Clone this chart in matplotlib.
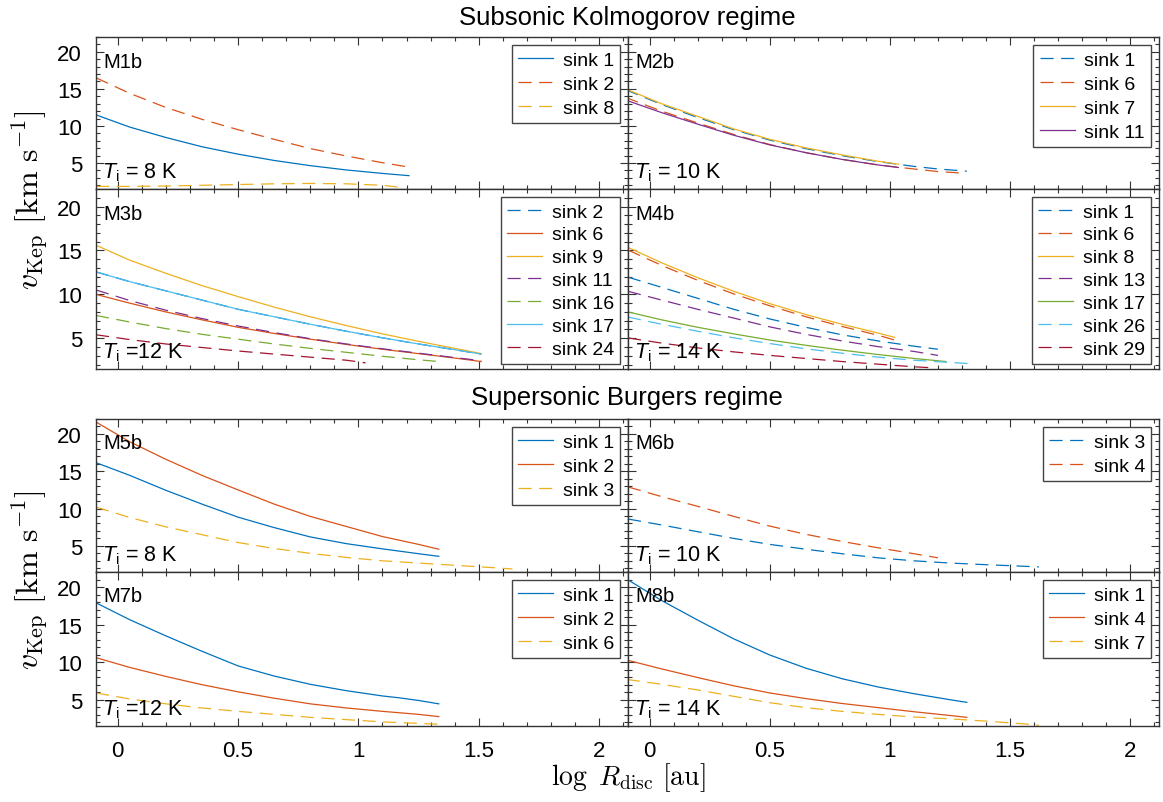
import matplotlib
matplotlib.use('Agg')
import matplotlib.pyplot as plt
from matplotlib.ticker import MultipleLocator, FuncFormatter

plt.rcParams['font.family'] = ['Liberation Sans', 'DejaVu Sans']
plt.rcParams['mathtext.fontset'] = 'custom'
plt.rcParams['mathtext.rm'] = 'Liberation Sans'
plt.rcParams['mathtext.it'] = 'Liberation Sans:italic'
plt.rcParams['mathtext.bf'] = 'Liberation Sans:bold'

# ---------------- data (log R_disc [au], v_Kep [km/s]) ----------------
# M1b  (Ti = 8 K)
m1b_labels = ['sink 1', 'sink 2', 'sink 8']
m1b_x = [[-0.09, 0.05, 0.2, 0.35, 0.5, 0.65, 0.8, 0.95, 1.1, 1.21],
         [-0.09, 0.05, 0.2, 0.35, 0.5, 0.65, 0.8, 0.95, 1.1, 1.21],
         [-0.09, 0.05, 0.2, 0.35, 0.5, 0.65, 0.8, 0.95, 1.1, 1.18]]
m1b_v = [[11.5, 9.85, 8.45, 7.2, 6.2, 5.35, 4.65, 4.07, 3.6, 3.3],
         [16.5, 14.4, 12.5, 10.9, 9.5, 8.2, 6.95, 5.95, 5.05, 4.45],
         [1.85, 1.85, 1.9, 2.0, 2.1, 2.2, 2.25, 2.2, 2.0, 1.7]]

# M2b  (Ti = 10 K)
m2b_labels = ['sink 1', 'sink 6', 'sink 7', 'sink 11']
m2b_x = [[-0.1, 0.05, 0.2, 0.35, 0.5, 0.65, 0.8, 0.95, 1.1, 1.2, 1.32],
         [-0.1, 0.05, 0.2, 0.35, 0.5, 0.65, 0.8, 0.95, 1.1, 1.2, 1.29],
         [-0.1, 0.05, 0.2, 0.35, 0.5, 0.65, 0.8, 0.95, 1.035],
         [-0.1, 0.05, 0.2, 0.35, 0.5, 0.65, 0.8, 0.95, 1.035]]
m2b_v = [[14.9, 12.9, 11.15, 9.5, 8.1, 6.95, 6.0, 5.2, 4.55, 4.2, 3.9],
         [13.85, 12.0, 10.4, 8.85, 7.5, 6.4, 5.5, 4.75, 4.2, 3.85, 3.67],
         [15.0, 13.0, 11.3, 9.6, 8.2, 7.05, 6.1, 5.25, 4.85],
         [13.5, 11.8, 10.25, 8.75, 7.45, 6.4, 5.5, 4.75, 4.4]]

# M3b  (Ti = 12 K)
m3b_labels = ['sink 2', 'sink 6', 'sink 9', 'sink 11', 'sink 16', 'sink 17', 'sink 24']
m3b_x = [[-0.09, 0.05, 0.2, 0.35, 0.5, 0.65, 0.8, 0.95, 1.1, 1.25, 1.4, 1.51],
         [-0.09, 0.05, 0.2, 0.35, 0.5, 0.65, 0.8, 0.95, 1.1, 1.25, 1.4, 1.51],
         [-0.09, 0.05, 0.2, 0.35, 0.5, 0.65, 0.8, 0.95, 1.1, 1.25, 1.4, 1.51],
         [-0.09, 0.05, 0.2, 0.35, 0.5, 0.65, 0.8, 0.95, 1.1, 1.25, 1.4, 1.51],
         [-0.09, 0.05, 0.2, 0.35, 0.5, 0.65, 0.8, 0.95, 1.1, 1.25, 1.334],
         [-0.09, 0.05, 0.2, 0.35, 0.5, 0.65, 0.8, 0.95, 1.1, 1.25, 1.4, 1.51],
         [-0.09, 0.05, 0.2, 0.35, 0.5, 0.65, 0.8, 0.95, 1.03]]
m3b_v = [[12.56, 11.45, 10.4, 9.35, 8.3, 7.45, 6.6, 5.8, 5.05, 4.35, 3.7, 3.2],
         [10.0, 9.0, 8.0, 7.1, 6.25, 5.55, 4.9, 4.3, 3.75, 3.25, 2.75, 2.35],
         [15.6, 13.9, 12.4, 11.0, 9.75, 8.55, 7.45, 6.45, 5.5, 4.65, 3.85, 3.26],
         [10.5, 9.3, 8.2, 7.25, 6.4, 5.65, 4.95, 4.35, 3.8, 3.3, 2.8, 2.45],
         [7.6, 6.85, 6.1, 5.45, 4.9, 4.35, 3.85, 3.4, 2.95, 2.55, 2.35],
         [12.56, 11.45, 10.4, 9.35, 8.3, 7.45, 6.6, 5.8, 5.05, 4.35, 3.7, 3.2],
         [5.4, 4.85, 4.35, 3.95, 3.55, 3.2, 2.85, 2.5, 2.2]]

# M4b  (Ti = 14 K)
m4b_labels = ['sink 1', 'sink 6', 'sink 8', 'sink 13', 'sink 17', 'sink 26', 'sink 29']
m4b_x = [[-0.09, 0.05, 0.2, 0.35, 0.5, 0.65, 0.8, 0.95, 1.1, 1.2],
         [-0.09, 0.05, 0.2, 0.35, 0.5, 0.65, 0.8, 0.95, 1.02],
         [-0.09, 0.05, 0.2, 0.35, 0.5, 0.65, 0.8, 0.95, 1.02],
         [-0.09, 0.05, 0.2, 0.35, 0.5, 0.65, 0.8, 0.95, 1.1, 1.2],
         [-0.09, 0.05, 0.2, 0.35, 0.5, 0.65, 0.8, 0.95, 1.1, 1.233],
         [-0.09, 0.05, 0.2, 0.35, 0.5, 0.65, 0.8, 0.95, 1.1, 1.25, 1.33],
         [-0.09, 0.05, 0.2, 0.35, 0.5, 0.65, 0.8, 0.95, 1.1, 1.17]]
m4b_v = [[11.96, 10.8, 9.55, 8.3, 7.2, 6.25, 5.4, 4.7, 4.1, 3.75],
         [15.05, 13.3, 11.6, 10.05, 8.7, 7.45, 6.35, 5.35, 4.8],
         [15.35, 13.6, 11.9, 10.35, 8.95, 7.7, 6.6, 5.6, 5.1],
         [10.35, 9.35, 8.3, 7.3, 6.3, 5.45, 4.7, 4.05, 3.5, 3.05],
         [8.0, 7.1, 6.25, 5.5, 4.8, 4.2, 3.65, 3.15, 2.7, 2.35],
         [7.42, 6.6, 5.8, 5.05, 4.4, 3.8, 3.3, 2.85, 2.5, 2.25, 2.12],
         [5.04, 4.45, 3.9, 3.45, 3.05, 2.7, 2.35, 2.05, 1.75, 1.65]]

# M5b  (Ti = 8 K)
m5b_labels = ['sink 1', 'sink 2', 'sink 3']
m5b_x = [[-0.09, 0.05, 0.2, 0.35, 0.5, 0.65, 0.8, 0.95, 1.1, 1.25, 1.334],
         [-0.09, 0.05, 0.2, 0.35, 0.5, 0.65, 0.8, 0.95, 1.1, 1.25, 1.334],
         [-0.09, 0.05, 0.2, 0.35, 0.5, 0.65, 0.8, 0.95, 1.1, 1.25, 1.4, 1.55, 1.64]]
m5b_v = [[16.15, 14.45, 12.45, 10.6, 8.85, 7.45, 6.2, 5.3, 4.6, 3.95, 3.6],
         [21.6, 18.95, 16.6, 14.45, 12.5, 10.6, 8.95, 7.6, 6.25, 5.2, 4.55],
         [10.2, 8.8, 7.55, 6.5, 5.45, 4.65, 4.0, 3.45, 3.0, 2.7, 2.4, 2.1, 1.9]]

# M6b  (Ti = 10 K)
m6b_labels = ['sink 3', 'sink 4']
m6b_x = [[-0.09, 0.05, 0.2, 0.35, 0.5, 0.65, 0.8, 0.95, 1.1, 1.25, 1.4, 1.55, 1.62],
         [-0.09, 0.05, 0.2, 0.35, 0.5, 0.65, 0.8, 0.95, 1.1, 1.2]]
m6b_v = [[8.6, 7.8, 6.9, 6.0, 5.2, 4.55, 3.95, 3.4, 3.0, 2.7, 2.48, 2.28, 2.18],
         [12.9, 11.6, 10.3, 8.95, 7.65, 6.55, 5.6, 4.75, 3.95, 3.4]]

# M7b  (Ti = 12 K)
m7b_labels = ['sink 1', 'sink 2', 'sink 6']
m7b_x = [[-0.09, 0.05, 0.2, 0.35, 0.5, 0.65, 0.8, 0.95, 1.1, 1.17, 1.25, 1.334],
         [-0.09, 0.05, 0.2, 0.35, 0.5, 0.65, 0.8, 0.95, 1.1, 1.25, 1.334],
         [-0.09, 0.05, 0.2, 0.35, 0.5, 0.65, 0.8, 0.95, 1.1, 1.25, 1.334]]
m7b_v = [[17.9, 15.65, 13.5, 11.45, 9.5, 8.15, 7.05, 6.2, 5.5, 5.25, 4.9, 4.45],
         [10.6, 9.3, 8.1, 7.0, 6.05, 5.2, 4.45, 3.9, 3.45, 3.05, 2.75],
         [5.9, 5.1, 4.45, 3.9, 3.45, 3.05, 2.65, 2.35, 2.05, 1.85, 1.73]]

# M8b  (Ti = 14 K)
m8b_labels = ['sink 1', 'sink 4', 'sink 7']
m8b_x = [[-0.095, 0.05, 0.2, 0.35, 0.5, 0.65, 0.8, 0.95, 1.1, 1.25, 1.32],
         [-0.095, 0.05, 0.2, 0.35, 0.5, 0.65, 0.8, 0.95, 1.1, 1.25, 1.32],
         [-0.095, 0.05, 0.2, 0.35, 0.5, 0.65, 0.8, 0.95, 1.1, 1.25, 1.4, 1.55, 1.62]]
m8b_v = [[21.05, 18.2, 15.6, 13.1, 10.95, 9.2, 7.8, 6.7, 5.8, 5.0, 4.65],
         [10.28, 9.1, 7.95, 6.85, 5.9, 5.15, 4.5, 3.95, 3.4, 2.9, 2.65],
         [7.7, 7.05, 6.3, 5.45, 4.6, 3.95, 3.45, 3.05, 2.7, 2.45, 2.15, 1.8, 1.6]]

panel_names = ['M1b', 'M2b', 'M3b', 'M4b', 'M5b', 'M6b', 'M7b', 'M8b']
panel_temps = [r'$T_{\rm i}$ = 8 K', r'$T_{\rm i}$ = 10 K', r'$T_{\rm i}$ =12 K', r'$T_{\rm i}$ = 14 K',
               r'$T_{\rm i}$ = 8 K', r'$T_{\rm i}$ = 10 K', r'$T_{\rm i}$ =12 K', r'$T_{\rm i}$ = 14 K']
x_ticks = [0, 0.5, 1, 1.5, 2]
y_ticks = [5, 10, 15, 20]

# ---------------- styles ----------------
BLUE, ORANGE, YELLOW = '#0072BD', '#D95319', '#EDB120'
PURPLE, GREEN, LBLUE, DRED = '#7E2F8E', '#77AC30', '#4DBEEE', '#A2142F'
S, D = '-', '--'
panel_styles = [
    [(BLUE, S), (ORANGE, D), (YELLOW, D)],
    [(BLUE, D), (ORANGE, D), (YELLOW, S), (PURPLE, S)],
    [(BLUE, D), (ORANGE, S), (YELLOW, S), (PURPLE, D), (GREEN, D), (LBLUE, S), (DRED, D)],
    [(BLUE, D), (ORANGE, D), (YELLOW, S), (PURPLE, D), (GREEN, S), (LBLUE, D), (DRED, D)],
    [(BLUE, S), (ORANGE, S), (YELLOW, D)],
    [(BLUE, D), (ORANGE, D)],
    [(BLUE, S), (ORANGE, S), (YELLOW, D)],
    [(BLUE, S), (ORANGE, S), (YELLOW, D)],
]
panel_data = [(m1b_labels, m1b_x, m1b_v), (m2b_labels, m2b_x, m2b_v),
              (m3b_labels, m3b_x, m3b_v), (m4b_labels, m4b_x, m4b_v),
              (m5b_labels, m5b_x, m5b_v), (m6b_labels, m6b_x, m6b_v),
              (m7b_labels, m7b_x, m7b_v), (m8b_labels, m8b_x, m8b_v)]

# ---------------- layout ----------------
W, H = 1163, 803
fig = plt.figure(figsize=(W / 100, H / 100), dpi=100)
cols_px = [(96, 628), (628, 1159)]
rows_px = [(38, 190), (190, 370), (420, 573), (573, 727)]

EDGE = '#333333'
for i, (labels, xs, vs) in enumerate(panel_data):
    r, c = divmod(i, 2)
    x0, x1 = cols_px[c]
    y0, y1 = rows_px[r]
    ax = fig.add_axes([x0 / W, 1 - y1 / H, (x1 - x0) / W, (y1 - y0) / H])
    for lab, xx, vv, (col, ls) in zip(labels, xs, vs, panel_styles[i]):
        if ls == '--':
            ax.plot(xx, vv, color=col, lw=0.9, ls='--', dashes=(10.5, 6), label=lab)
        else:
            ax.plot(xx, vv, color=col, lw=0.9, ls='-', label=lab)
    ax.set_xlim(-0.09, 2.12)
    ax.set_ylim(1.5, 22)
    ax.set_xticks(x_ticks)
    ax.set_yticks(y_ticks)
    ax.xaxis.set_minor_locator(MultipleLocator(0.1))
    ax.yaxis.set_minor_locator(MultipleLocator(1))
    ax.tick_params(which='both', direction='in', top=True, right=True, colors=EDGE,
                   labelcolor='black', width=0.8)
    ax.tick_params(which='major', length=6, labelsize=16, pad=10)
    ax.tick_params(which='minor', length=3)
    for sp in ax.spines.values():
        sp.set_color(EDGE)
        sp.set_linewidth(1.0)
    ax.xaxis.set_major_formatter(FuncFormatter(lambda v, p: '%g' % v))
    if r != 3:
        ax.tick_params(labelbottom=False)
    if c != 0:
        ax.tick_params(labelleft=False)
    spacing = 0.27 if len(labels) > 5 else 0.33
    leg = ax.legend(loc='upper right', fontsize=14, frameon=True, fancybox=False,
                    framealpha=1, edgecolor='#444444', handlelength=1.8,
                    labelspacing=spacing, borderpad=0.32, handletextpad=0.5,
                    borderaxespad=0.4)
    leg.get_frame().set_linewidth(1.0)
    ax.annotate(panel_names[i], xy=(0, 1), xycoords='axes fraction',
                xytext=(7, -24), textcoords='offset pixels', ha='left', va='center',
                fontsize=14.5)
    ax.annotate(panel_temps[i], xy=(0, 0), xycoords='axes fraction',
                xytext=(6, 17), textcoords='offset pixels', ha='left', va='center',
                fontsize=15.5)

fig.text(627 / W, 1 - 18 / H, 'Subsonic Kolmogorov regime', ha='center', va='center', fontsize=18.5)
fig.text(627 / W, 1 - 398 / H, 'Supersonic Burgers regime', ha='center', va='center', fontsize=18.5)
ylab = r'$v_{\rm Kep}\ [{\rm km\ s^{-1}}]$'
fig.text(30 / W, 1 - 200 / H, ylab, rotation=90, ha='center', va='center',
         fontsize=23, math_fontfamily='cm')
fig.text(30 / W, 1 - 580 / H, ylab, rotation=90, ha='center', va='center',
         fontsize=23, math_fontfamily='cm')
fig.text(628 / W, 1 - 778 / H, r'$\log\ R_{\rm disc}\ [{\rm au}]$', ha='center', va='center',
         fontsize=20, math_fontfamily='cm')

fig.savefig('out.png', dpi=100)
